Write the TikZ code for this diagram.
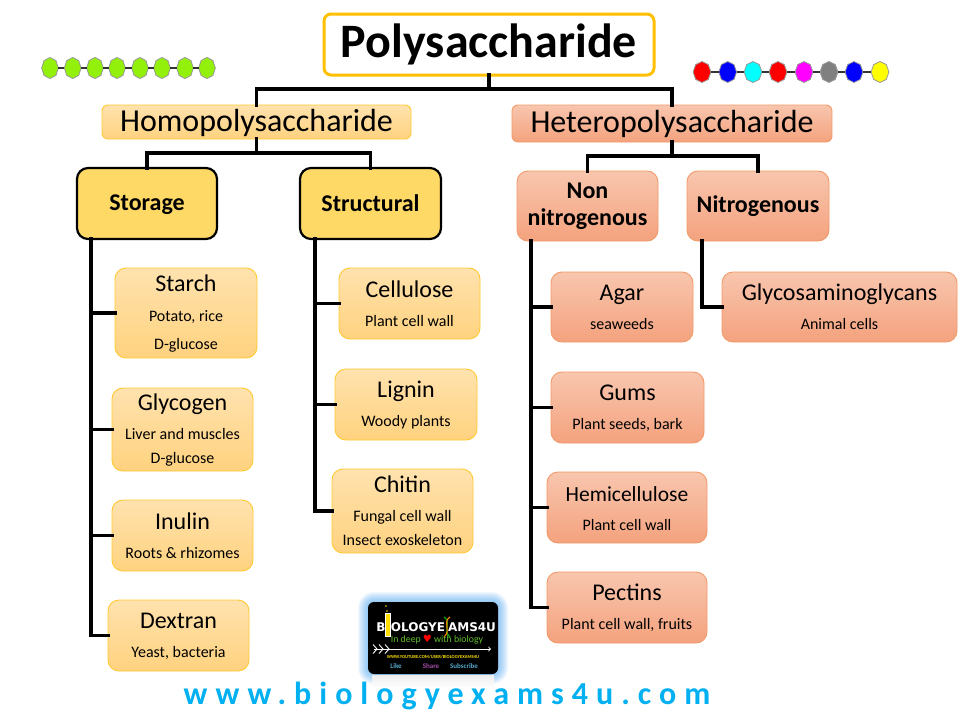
\documentclass[tikz,border=0pt]{standalone}
\usepackage{fontspec}
\setmainfont{Carlito}
\newfontfamily\symfont{DejaVu Sans}
\newfontfamily\logofont{DejaVu Sans}
\newfontfamily\urlfont[LetterSpace=25]{Carlito}
\usetikzlibrary{shapes.geometric,calc}
\definecolor{polybd}{HTML}{FFC000}
\definecolor{ybd}{HTML}{FFCA33}
\definecolor{ytop}{HTML}{FFE2AE}
\definecolor{ybot}{HTML}{FFD27F}
\definecolor{rbd}{HTML}{F19A6A}
\definecolor{rtop}{HTML}{F8C6AE}
\definecolor{rbot}{HTML}{F4A27E}
\definecolor{stor}{HTML}{FFD966}
\definecolor{urlblue}{HTML}{00B0F0}
\definecolor{pcyan}{HTML}{00FFFF}
\definecolor{pmag}{HTML}{FF00FF}
\definecolor{pyel}{HTML}{FFFF00}
\definecolor{pred}{HTML}{FF0000}
\definecolor{pblue}{HTML}{0000FF}
\definecolor{pgray}{HTML}{808080}
\definecolor{pgreen}{HTML}{92F00A}
\definecolor{glow}{HTML}{4FA8F5}
\tikzset{
  every node/.style={inner sep=0pt,outer sep=0pt,align=center,text=black},
  link/.style={draw=black,line width=3.4pt,line cap=rect},
  chain/.style={draw=black!80,line width=1.6pt},
  octo/.style={regular polygon,regular polygon sides=8,shape border rotate=22.5,minimum size=21pt,draw=black!40,line width=.8pt,xscale=.8,transform shape},
  yleaf/.style={rounded corners=11pt,draw=ybd,line width=.9pt,top color=ytop,bottom color=ybot,font=\fontsize{16}{24}\selectfont},
  rleaf/.style={rounded corners=11pt,draw=rbd,line width=.9pt,top color=rtop,bottom color=rbot,font=\fontsize{16}{24}\selectfont},
  yhead/.style={rounded corners=6pt,draw=ybd,line width=.9pt,top color=ytop,bottom color=ybot,font=\fontsize{32}{34}\selectfont},
  rhead/.style={rounded corners=6pt,draw=rbd,line width=.9pt,top color=rtop,bottom color=rbot,font=\fontsize{32}{34}\selectfont},
  ycat/.style={rounded corners=11pt,draw=black,line width=2.2pt,fill=stor,font=\bfseries\fontsize{24}{26}\selectfont},
  rcat/.style={rounded corners=11pt,draw=rbd,line width=.9pt,top color=rtop,bottom color=rbot,font=\bfseries\fontsize{24}{27}\selectfont},
  logotxt/.style={font=\logofont\bfseries\fontsize{12}{12}\selectfont,text=white},
}
\newcommand{\bx}[7]{\node[#1,minimum width={(#5-#3)*1pt},minimum height={(#6-#4)*1pt}] (#2) at ({(#3+#5)/2},{(#4+#6)/2}) {#7};}
\newcommand{\ttl}[1]{\rule{0pt}{17pt}{\fontsize{24}{24}\selectfont #1}}
\begin{document}
\begin{tikzpicture}[x=1pt,y=-1pt]
\useasboundingbox (0,0) rectangle (980,720);
\fill[white] (0,0) rectangle (980,720);

% boxes
\bx{rounded corners=7pt,draw=polybd,line width=3pt,fill=white,font=\bfseries\fontsize{48}{50}\selectfont}{poly}{324}{14}{654}{75}{Polysaccharide}
\bx{yhead}{homo}{102}{105}{411}{139}{\rule{0pt}{25pt}Homopolysaccharide}
\bx{rhead}{hetero}{512}{105}{832}{142}{\rule{0pt}{23pt}Heteropolysaccharide}
\bx{ycat}{storage}{77}{168}{217}{239}{\rule{0pt}{19pt}Storage}
\bx{ycat}{structural}{300}{168}{441}{239}{Structural}
\bx{rcat}{nonnit}{517}{171}{658}{241}{Non\\nitrogenous}
\bx{rcat}{nit}{687}{171}{829}{241}{Nitrogenous}

\bx{yleaf}{starch}{115}{268}{257}{358}{\ttl{Starch}\\[6pt]Potato, rice\\[4pt]D-glucose}
\bx{yleaf}{glycogen}{112}{388}{253}{471}{\ttl{Glycogen}\\[5pt]Liver and muscles\\D-glucose}
\bx{yleaf}{inulin}{112}{500}{253}{571}{\ttl{Inulin}\\[5pt]Roots \& rhizomes}
\bx{yleaf}{dextran}{108}{600}{249}{671}{\ttl{Dextran}\\[5pt]Yeast, bacteria}
\bx{yleaf}{cellulose}{339}{268}{480}{339}{\ttl{Cellulose}\\[5pt]Plant cell wall}
\bx{yleaf}{lignin}{335}{369}{477}{440}{\ttl{Lignin}\\[5pt]Woody plants}
\bx{yleaf}{chitin}{332}{469}{473}{553}{\ttl{Chitin}\\[5pt]Fungal cell wall\\Insect exoskeleton}
\bx{rleaf}{agar}{551}{272}{693}{342}{\ttl{Agar}\\[5pt]seaweeds}
\bx{rleaf}{gums}{551}{372}{704}{443}{\ttl{Gums}\\[5pt]Plant seeds, bark}
\bx{rleaf}{hemi}{547}{472}{707}{543}{\rule{0pt}{17pt}{\fontsize{21.5}{24}\selectfont Hemicellulose}\\[5pt]Plant cell wall}
\bx{rleaf}{pectins}{547}{572}{707}{643}{\ttl{Pectins}\\[5pt]Plant cell wall, fruits}
\bx{rleaf}{gag}{722}{272}{957}{342}{\ttl{Glycosaminoglycans}\\[5pt]Animal cells}

% tree connectors
\draw[link] (poly.south) -- ++(0,14) -| (homo.north);
\draw[link] (poly.south) -- ++(0,14) -| (hetero.north);
\draw[link] (homo.south) -- ++(0,14) -| (storage.north);
\draw[link] (homo.south) -- ++(0,14) -| (structural.north);
\draw[link] (hetero.south) -- ++(0,14) -| (nonnit.north);
\draw[link] (hetero.south) -- ++(0,14) -| (nit.north);
\coordinate (sttrunk) at (91,239);
\coordinate (sctrunk) at (315,239);
\coordinate (nntrunk) at (531,241);
\coordinate (ntrunk) at (702,241);
\foreach \n in {starch,glycogen,inulin,dextran} \draw[link] (sttrunk) |- (\n.west);
\foreach \n in {cellulose,lignin,chitin} \draw[link] (sctrunk) |- (\n.west);
\foreach \n in {agar,gums,hemi,pectins} \draw[link] (nntrunk) |- (\n.west);
\draw[link] (ntrunk) |- (gag.west);

% sugar chains
\foreach \i/\x in {1/50,2/72.7,3/95,4/117,5/140,6/162,7/185,8/207}
  \node[octo,fill=pgreen] (g\i) at (\x,68) {};
\foreach \a/\b in {1/2,2/3,3/4,4/5,5/6,6/7,7/8} \draw[chain] (g\a) -- (g\b);
\foreach \i/\x/\c in {1/702/pred,2/727.7/pblue,3/753/pcyan,4/778/pred,5/804/pmag,6/829/pgray,7/854/pblue,8/880/pyel}
  \node[octo,xscale=1.06,fill=\c] (c\i) at (\x,72) {};
\foreach \a/\b in {1/2,2/3,3/4,4/5,5/6,6/7,7/8} \draw[chain] (c\a) -- (c\b);

% logo
\foreach \i in {10,9,...,1}
  \fill[rounded corners={(6+\i)*1pt},glow,opacity=.08] ({368-\i},{602-\i}) rectangle ({498+\i},{674+\i});
\fill[top color=black!7,bottom color=white,draw=none] (372,675) rectangle (494,688);
\node[rounded corners=6pt,fill=black,minimum width=130pt,minimum height=72pt] (logo) at (433,638) {};
\node[logotxt] (lb) at (381,627) {B};
\fill[yellow!80!orange,draw=white,line width=.4pt] (385,613) rectangle (390,636);
\fill[yellow!70!orange] (386,606) circle (.8) (387,611) circle (.8);
\node[logotxt] (lo) at (418,627) {OLOGYE};
\node[logotxt] (la) at (472,627) {AMS4U};
\draw[green!70!black,line width=1.1pt] (444,617) .. controls (452,622) and (442,630) .. (450,637);
\draw[orange,line width=1.1pt] (450,617) .. controls (442,622) and (452,630) .. (444,637);
\node[font=\fontsize{9.8}{11}\selectfont,text={rgb,255:red,96;green,190;blue,40}] (ld) at (437,640) {In deep {\symfont\textcolor{red}{\fontsize{10}{10}\selectfont ♥}} with biology};
\coordinate (la1) at (374,649);
\coordinate (la2) at (491,649);
\draw[white,line width=.9pt,->] (la1) -- (la2);
\foreach \x in {373,379,385} \draw[white,line width=.9pt] (\x,644.5) -- (\x+4,649) -- (\x,653.5);
\node[font=\bfseries\fontsize{4.6}{5}\selectfont,text=yellow!85!orange] (lu) at (433,657) {WWW.YOUTUBE.COM/USER/BIOLOGYEXAMS4U};
\node[font=\bfseries\fontsize{7}{8}\selectfont,text=cyan!60!gray] (l1) at (396,666) {Like};
\node[font=\bfseries\fontsize{7}{8}\selectfont,text=violet!70!white] (l2) at (431,666) {Share};
\node[font=\bfseries\fontsize{7}{8}\selectfont,text=cyan!60!gray] (l3) at (464,666) {Subscribe};

% web address
\node[font=\urlfont\bfseries\fontsize{32}{34}\selectfont,text=urlblue] (url) at (447,696) {www.biologyexams4u.com};
\end{tikzpicture}
\end{document}
